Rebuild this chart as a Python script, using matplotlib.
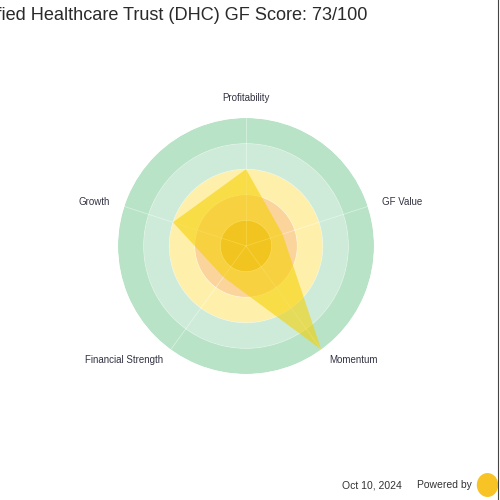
import matplotlib.pyplot as plt
import numpy as np
from matplotlib.patches import Ellipse

categories = ['Profitability', 'GF Value', 'Momentum', 'Financial Strength', 'Growth']
scores = [6, 3, 10, 3, 6]
band_edges = [0, 2, 4, 6, 8, 10]
band_colors = ['#F0B44A', '#FAD49A', '#FEF0AA', '#CDEBD8', '#B8E3C7']
title = 'Diversified Healthcare Trust (DHC) GF Score: 73/100'
date_text = 'Oct 10, 2024'

plt.rcParams['font.family'] = ['Liberation Sans', 'DejaVu Sans']

fig = plt.figure(figsize=(5, 5), dpi=100)
ax = fig.add_axes([0.236, 0.252, 0.512, 0.512], projection='polar')
ax.set_theta_offset(np.pi / 2)
ax.set_theta_direction(-1)

# background bands
for i in range(len(band_colors)):
    ax.bar(0, band_edges[i + 1] - band_edges[i], width=2 * np.pi, bottom=band_edges[i],
           color=band_colors[i], edgecolor='none', zorder=0)

angles = np.linspace(0, 2 * np.pi, len(categories), endpoint=False)

# grid
for a in angles:
    ax.plot([a, a], [0, 10], color='white', lw=0.6, alpha=0.45, zorder=1)
t = np.linspace(0, 2 * np.pi, 200)
for r in band_edges[1:-1]:
    ax.plot(t, np.full_like(t, r), color='white', lw=0.6, alpha=0.35, zorder=1)

vals = scores + scores[:1]
ang = np.append(angles, angles[0])
ax.fill(ang, vals, color='#F5D000', alpha=0.58, zorder=2, lw=0)

ax.set_ylim(0, 10)
ax.set_xticks([])
ax.set_yticks([])
ax.grid(False)
ax.spines['polar'].set_visible(False)
ax.set_facecolor('none')

# category labels, aligned by side
for a, c in zip(angles, categories):
    s = np.sin(a)
    if abs(s) < 0.1:
        r, ha = 11.6, 'center'
    elif np.cos(a) > 0:
        r, ha = 11.2, 'left' if s > 0 else 'right'
    else:
        r, ha = 11.0, 'left' if s > 0 else 'right'
    ax.text(a, r, c, ha=ha, va='center', fontsize=7, color='#333344', clip_on=False)

fig.text(0.734, 0.968, title, ha='right', va='center', fontsize=13.1, color='#2a2a2a')
fig.text(0.684, 0.03, date_text, ha='left', va='center', fontsize=7.5, color='#333333')
fig.text(0.834, 0.03, 'Powered by', ha='left', va='center', fontsize=7.5, color='#333333')
fig.patches.append(Ellipse((0.975, 0.03), 0.04, 0.045, transform=fig.transFigure,
                           color='#F8C325', figure=fig))
fig.add_artist(plt.Line2D([0.996, 0.996], [0, 1], transform=fig.transFigure,
                          color='#444444', lw=0.8))

fig.savefig('out.png', dpi=100, facecolor='white')
